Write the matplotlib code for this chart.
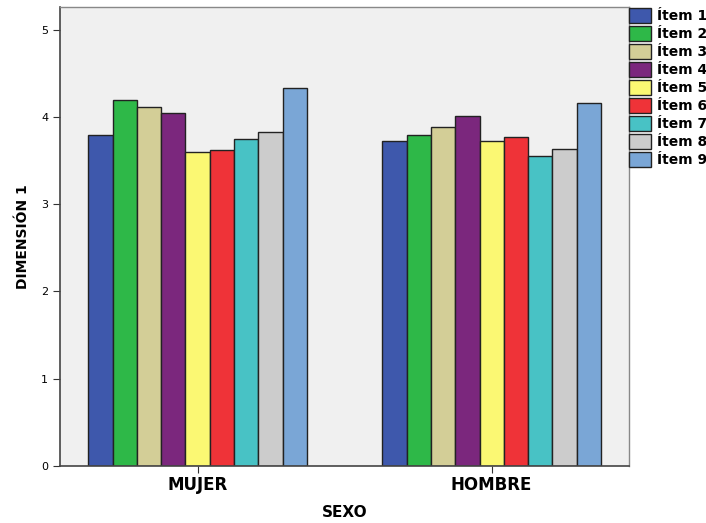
import numpy as np
import matplotlib.pyplot as plt

groups = ["MUJER", "HOMBRE"]
items = ["Ítem 1", "Ítem 2", "Ítem 3", "Ítem 4", "Ítem 5",
         "Ítem 6", "Ítem 7", "Ítem 8", "Ítem 9"]
mujer = [3.79, 4.19, 4.11, 4.04, 3.60, 3.62, 3.75, 3.83, 4.33]
hombre = [3.72, 3.79, 3.88, 4.01, 3.73, 3.77, 3.55, 3.63, 4.16]
colors = ["#3E58AC", "#2EB848", "#D3CE97", "#7B277D", "#FBF873",
          "#EF3338", "#48C2C5", "#CCCCCC", "#7AA6D6"]

fig = plt.figure(figsize=(7.06, 5.23), dpi=100)
ax = fig.add_axes([0.085, 0.109, 0.8055, 0.8776])
ax.set_facecolor("#F0F0F0")

x = np.arange(len(groups))
width = 0.0827
n = len(items)
for i in range(n):
    offs = (i - (n - 1) / 2) * width
    ax.bar(x + offs, [mujer[i], hombre[i]], width, color=colors[i],
           edgecolor="#222222", linewidth=1.0, label=items[i])

ax.set_xlim(-0.468, 1.466)
ax.set_ylim(0, 5.26)
ax.set_yticks(range(6))
ax.set_xticks(x)
ax.set_xticklabels(groups, fontsize=12, fontweight="bold")
ax.tick_params(axis="y", labelsize=8, length=5, color="#333333")
ax.tick_params(axis="x", length=5, color="#333333", pad=2)
ax.set_xlabel("SEXO", fontsize=11, fontweight="bold", labelpad=8)
ax.set_ylabel("DIMENSIÓN 1", fontsize=10, fontweight="bold", labelpad=8)

for s in ["left", "bottom"]:
    ax.spines[s].set_color("#444444")
    ax.spines[s].set_linewidth(1.2)
for s in ["top", "right"]:
    ax.spines[s].set_color("#888888")
    ax.spines[s].set_linewidth(1.0)

fig.legend(loc="upper left", bbox_to_anchor=(0.887, 0.99), frameon=False,
           prop={"weight": "bold", "size": 10}, handlelength=1.6,
           handleheight=1.3, handletextpad=0.4, labelspacing=0.2,
           borderaxespad=0, borderpad=0.2)

fig.savefig("out.png", dpi=100)
